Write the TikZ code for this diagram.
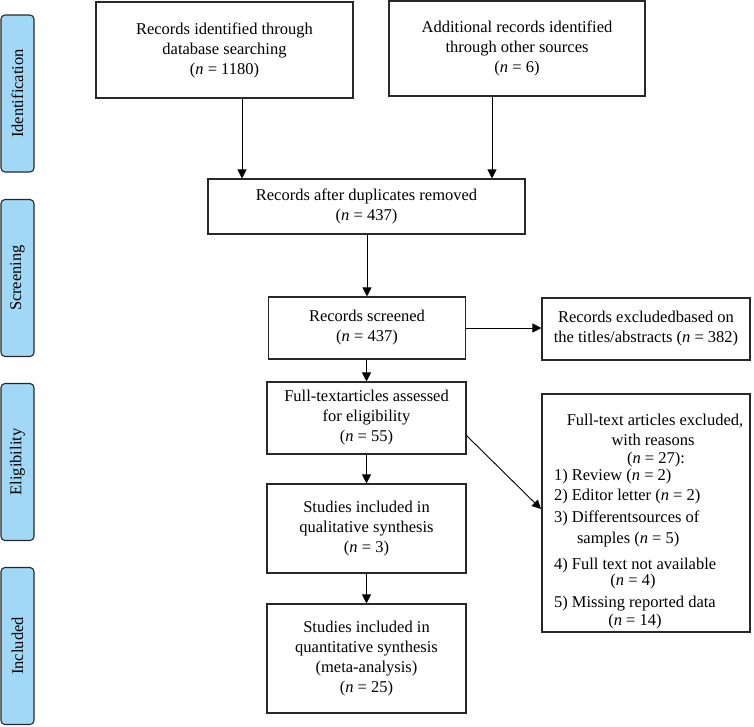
\documentclass[tikz,border=0pt]{standalone}
\usepackage{fontspec}
\setmainfont{Liberation Serif}
\usetikzlibrary{arrows.meta}
\definecolor{tabblue}{RGB}{160,216,245}
\definecolor{edge}{RGB}{40,40,40}
\tikzset{
  box/.style={draw=edge, line width=1.1pt, align=center, inner sep=2pt, font=\fontsize{16.5}{20}\selectfont},
  tab/.style={draw=edge, fill=tabblue, line width=1.1pt, rounded corners=4pt, minimum width=33pt, minimum height=157pt, inner sep=0pt, font=\fontsize{16.5}{20}\selectfont},
  arr/.style={-{Triangle[length=9pt,width=9pt]}, line width=1pt, draw=black}
}
\newcommand{\nn}{\textit{n}}
\begin{document}
\begin{tikzpicture}[x=1pt,y=-1pt]
\useasboundingbox (0,0) rectangle (754,726);
% tabs
\node[tab] (t1) at (17.5,93.5) {\rotatebox{90}{Identification}};
\node[tab] (t2) at (17.5,278) {\rotatebox{90}{Screening}};
\node[tab] (t3) at (17.5,462) {\rotatebox{90}{Eligibility}};
\node[tab] (t4) at (17.5,646) {\rotatebox{90}{Included}};
% boxes
\node[box, minimum width=257pt, minimum height=96pt] (b1) at (224.5,50) {Records identified through\\database searching\\(\nn{} = 1180)};
\node[box, minimum width=256pt, minimum height=95pt] (b2) at (517,48.5) {Additional records identified\\through other sources\\(\nn{} = 6)};
\node[box, minimum width=317pt, minimum height=55pt] (b3) at (366.5,206.5) {Records after duplicates removed\\(\nn{} = 437)};
\node[box, minimum width=197pt, minimum height=62pt] (b4) at (367,328) {Records screened\\(\nn{} = 437)};
\node[box, minimum width=208pt, minimum height=62pt] (b5) at (646,329) {Records excludedbased on\\the titles/abstracts (\nn{} = 382)};
\node[box, minimum width=199pt, minimum height=72pt] (b6) at (366.5,418) {Full-textarticles assessed\\for eligibility\\(\nn{} = 55)};
\node[box, minimum width=199pt, minimum height=89pt] (b7) at (366.5,528.5) {Studies included in\\qualitative synthesis\\(\nn{} = 3)};
\node[box, minimum width=199pt, minimum height=109pt] (b8) at (366.5,658.5) {Studies included in\\quantitative synthesis\\(meta-analysis)\\(\nn{} = 25)};
\node[box, minimum width=208pt, inner sep=0pt, align=left] (b9) at (646,513) {%
\parbox[c][238pt][t]{184pt}{\raggedright\fontsize{16.5}{18}\selectfont\lineskiplimit=-30pt
\rule{0pt}{31pt}\makebox[184pt][c]{\hspace{18pt}Full-text articles excluded,}\\[2pt]
\makebox[184pt][c]{\hspace{14pt}with reasons}\\[0pt]
\makebox[184pt][c]{\hspace{20pt}(\nn{} = 27):}\\[-1pt]
1) Review (\nn{} = 2)\\[2pt]
2) Editor letter (\nn{} = 2)\\[4pt]
3) Differentsources of\\[3pt]
\hspace{23pt}samples (\nn{} = 5)\\[8pt]
4) Full text not available\\[-2pt]
\makebox[158pt][c]{(\nn{} = 4)}\\[4pt]
5) Missing reported data\\[0pt]
\makebox[162pt][c]{(\nn{} = 14)}}};
% arrows
\coordinate (a1) at (242,0);
\coordinate (a2) at (492,0);
\draw[arr] (b1.south -| a1) -- (b3.north -| a1);
\draw[arr] (b2.south -| a2) -- (b3.north -| a2);
\draw[arr] (b3.south -| b4.north) -- (b4.north);
\draw[arr] (b4.east) -- (b5.west |- b4.east);
\draw[arr] (b4.south -| b6.north) -- (b6.north);
\draw[arr] (b6) -- (b7);
\draw[arr] (b7) -- (b8);
\coordinate (d1) at (466,435);
\coordinate (d2) at (541,509);
\draw[arr, line width=0.9pt] (d1) -- (d2);
\end{tikzpicture}
\end{document}
